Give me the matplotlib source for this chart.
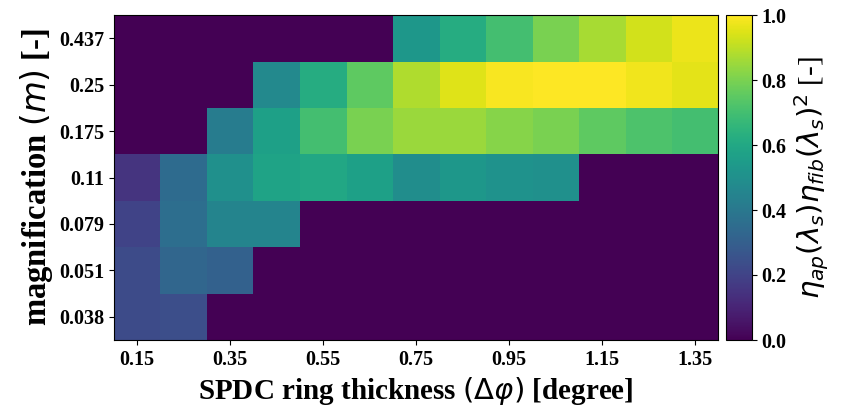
import numpy as np
import matplotlib
matplotlib.use("Agg")
import matplotlib.pyplot as plt

plt.rcParams['font.family'] = ['Liberation Serif', 'DejaVu Serif']
plt.rcParams['font.weight'] = 'normal'
plt.rcParams['mathtext.fontset'] = 'dejavusans'

thickness = [0.15, 0.25, 0.35, 0.45, 0.55, 0.65, 0.75, 0.85, 0.95, 1.05, 1.15, 1.25, 1.35]
magnification = ["0.038", "0.051", "0.079", "0.11", "0.175", "0.25", "0.437"]

# efficiency per magnification row (bottom to top), per ring thickness column
eff_038 = [0.23, 0.24, 0, 0, 0, 0, 0, 0, 0, 0, 0, 0, 0]
eff_051 = [0.23, 0.33, 0.31, 0, 0, 0, 0, 0, 0, 0, 0, 0, 0]
eff_079 = [0.20, 0.36, 0.45, 0.45, 0, 0, 0, 0, 0, 0, 0, 0, 0]
eff_110 = [0.15, 0.35, 0.50, 0.58, 0.60, 0.57, 0.49, 0.53, 0.51, 0.50, 0, 0, 0]
eff_175 = [0, 0, 0.42, 0.57, 0.70, 0.80, 0.85, 0.85, 0.82, 0.80, 0.75, 0.72, 0.70]
eff_250 = [0, 0, 0, 0.47, 0.62, 0.75, 0.88, 0.95, 0.99, 1.00, 1.00, 0.98, 0.96]
eff_437 = [0, 0, 0, 0, 0, 0, 0.53, 0.62, 0.70, 0.80, 0.87, 0.93, 0.97]

grid = np.array([eff_038, eff_051, eff_079, eff_110, eff_175, eff_250, eff_437])

fig = plt.figure(figsize=(8.47, 4.19), dpi=100)
ax = fig.add_axes([114/847, 1 - 340/419, (718-114)/847, (340-15)/419])
cax = fig.add_axes([726/847, 1 - 340/419, (752-726)/847, (340-15)/419])

im = ax.imshow(grid, cmap='viridis', vmin=0, vmax=1, origin='lower',
               aspect='auto', interpolation='nearest')

tick_size = 14.5
xt = list(range(0, len(thickness), 2))
ax.set_xticks(xt)
ax.set_xticklabels([f"{thickness[i]:.2f}" for i in xt], fontsize=tick_size, fontweight='bold')
ax.set_yticks(range(len(magnification)))
ax.set_yticklabels(magnification, fontsize=tick_size, fontweight='bold')
ax.set_xlabel(r"SPDC ring thickness $(\Delta\varphi)$ [degree]", fontsize=21,
              fontweight='bold', labelpad=4)
ax.set_ylabel(r"magnification $(m)$ [-]", fontsize=23.5, fontweight='bold', labelpad=3)

cb = fig.colorbar(im, cax=cax)
cb.set_ticks([0, 0.2, 0.4, 0.6, 0.8, 1.0])
cb.ax.set_yticklabels(["0.0", "0.2", "0.4", "0.6", "0.8", "1.0"], fontsize=tick_size,
                      fontweight='bold')
cb.set_label(r"$\eta_{ap}(\lambda_s)\eta_{fib}(\lambda_s)^2$ [-]", fontsize=21)

fig.savefig("out.png", dpi=100)
